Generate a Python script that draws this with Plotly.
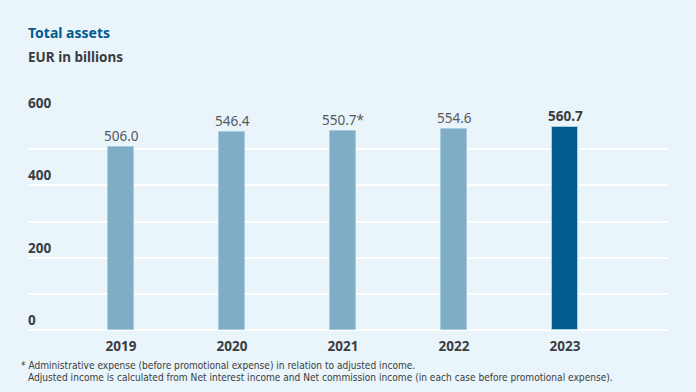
import plotly.graph_objects as go

years = ["2019", "2020", "2021", "2022", "2023"]
values = [506.0, 546.4, 550.7, 554.6, 560.7]
value_labels = ["506.0", "546.4", "550.7*", "554.6", "560.7"]
bar_colors = ["#7fadc6", "#7fadc6", "#7fadc6", "#7fadc6", "#005b8e"]
y_ticks = [0, 200, 400, 600]
y_tick_labels = ["0", "200", "400", "600"]

BG = "#e9f4fb"
DARK = "#3a3d40"
FONT = "Noto Sans"

fig = go.Figure()
fig.add_trace(go.Bar(
    x=list(range(len(years))),
    y=values,
    width=0.23,
    marker=dict(color=bar_colors, line=dict(color="#a9cce0", width=1)),
    hoverinfo="skip",
))

annotations = []
for i, (v, lab) in enumerate(zip(values, value_labels)):
    last = i == len(values) - 1
    annotations.append(dict(
        x=i, y=v, xref="x", yref="y", text=lab, showarrow=False,
        yanchor="bottom", yshift=0,
        font=dict(family=FONT, size=13.5, color=DARK if last else "#55595d",
                  weight="bold" if last else "normal"),
    ))
for t, lab in zip(y_ticks, y_tick_labels):
    annotations.append(dict(
        x=28 / 696, y=t, xref="paper", yref="y", text=lab, showarrow=False,
        xanchor="left", yanchor="bottom", yshift=-1, xshift=-2,
        font=dict(family=FONT, size=13.5, color=DARK, weight="bold"),
    ))

title_anns = [
    dict(text="Total assets", x=26 / 696, y=1 - 33 / 392, color="#005b8e", size=14),
    dict(text="EUR in billions", x=26 / 696, y=1 - 57 / 392, color=DARK, size=13.5),
]
for a in title_anns:
    annotations.append(dict(
        text=a["text"], x=a["x"], y=a["y"], xref="paper", yref="paper",
        xanchor="left", yanchor="middle", showarrow=False,
        font=dict(family=FONT, size=a["size"], color=a["color"], weight="bold"),
    ))

footnotes = [
    ("* Administrative expense (before promotional expense) in relation to adjusted income.", 19, 365.5),
    ("Adjusted income is calculated from Net interest income and Net commission income (in each case before promotional expense).", 26, 377),
]
for txt, x, y in footnotes:
    annotations.append(dict(
        text='<span style="font-stretch:condensed">' + txt + "</span>",
        x=x / 696, y=1 - y / 392, xref="paper", yref="paper",
        xanchor="left", yanchor="middle", showarrow=False,
        font=dict(family="DejaVu Sans Condensed, Liberation Sans Narrow, DejaVu Sans",
                  size=10.1, color=DARK),
    ))

fig.update_layout(
    width=696, height=392,
    margin=dict(l=0, r=0, t=0, b=0),
    paper_bgcolor=BG, plot_bgcolor=BG,
    showlegend=False,
    bargap=0,
    annotations=annotations,
    xaxis=dict(
        domain=[28 / 696, 668 / 696],
        range=[-0.838, 4.928],
        tickmode="array", tickvals=list(range(len(years))), ticktext=years,
        showgrid=False, zeroline=False, showline=False,
        ticks="", tickfont=dict(family=FONT, size=13.5, color=DARK, weight="bold"),
        ticklabelstandoff=6,
        fixedrange=True,
    ),
    yaxis=dict(
        domain=[62 / 392, 279 / 392],
        range=[0, 600],
        dtick=100, showticklabels=False,
        showgrid=True, gridcolor="white", gridwidth=1.5,
        zeroline=True, zerolinecolor="white", zerolinewidth=1.5,
        fixedrange=True,
    ),
)

fig.write_html(
    "out.html",
    config={"displayModeBar": False},
    post_script="document.body.style.margin='0';document.body.style.overflow='hidden';",
)
